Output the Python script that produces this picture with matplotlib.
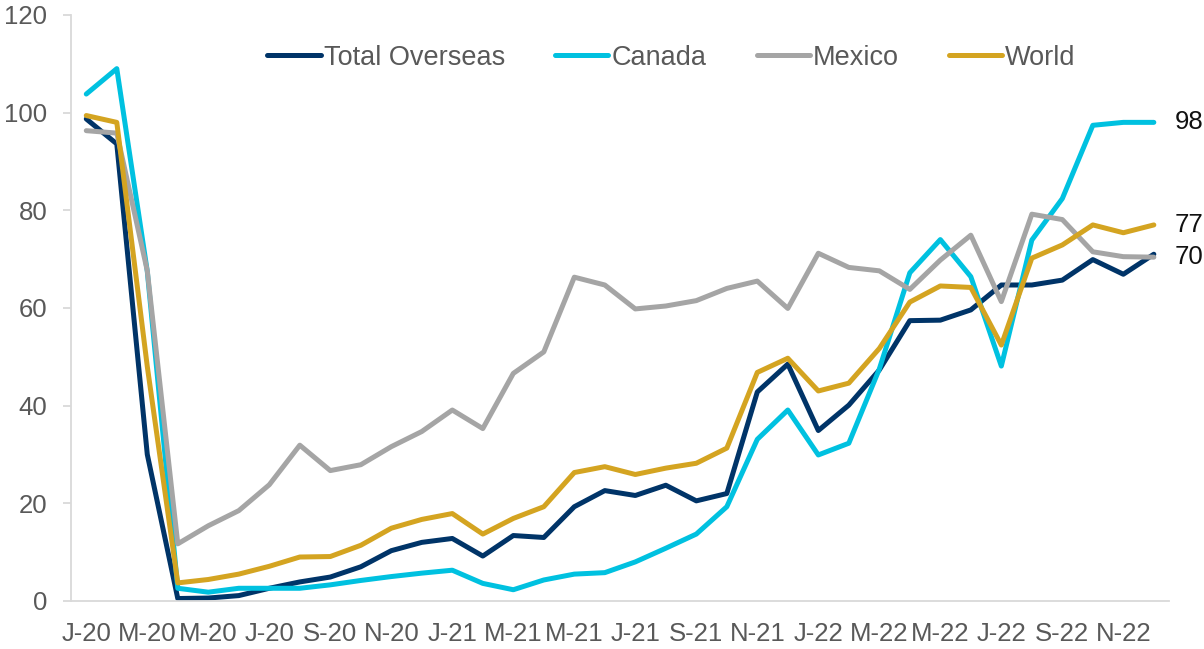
import matplotlib
matplotlib.use("Agg")
import matplotlib.pyplot as plt

plt.rcParams["font.family"] = ["Liberation Sans", "DejaVu Sans"]

# Monthly index values, Jan-2020 .. Dec-2022
months = [f"{m}-{y}" for y in ("20", "21", "22")
          for m in ("J", "F", "M", "A", "M", "J", "J", "A", "S", "O", "N", "D")]

total_overseas = [98.7, 93.6, 30.0, 0.5, 0.6, 1.1, 2.6, 3.9, 4.9, 7.0, 10.3, 12.0,
                  12.8, 9.2, 13.4, 13.0, 19.3, 22.6, 21.6, 23.7, 20.5, 22.0, 42.8, 48.5,
                  34.9, 40.1, 47.3, 57.4, 57.5, 59.6, 64.7, 64.7, 65.7, 69.9, 66.9, 71.0]
canada = [103.8, 109.0, 67.5, 2.6, 1.8, 2.6, 2.6, 2.6, 3.3, 4.2, 5.0, 5.7,
          6.3, 3.6, 2.3, 4.3, 5.5, 5.8, 8.0, 10.8, 13.7, 19.3, 33.1, 39.1,
          29.9, 32.3, 47.5, 67.2, 74.0, 66.4, 48.1, 73.9, 82.4, 97.4, 98.0, 98.0]
mexico = [96.3, 95.8, 67.6, 11.7, 15.4, 18.5, 23.8, 31.9, 26.7, 27.9, 31.6, 34.7,
          39.1, 35.3, 46.6, 51.0, 66.3, 64.7, 59.8, 60.4, 61.5, 64.0, 65.5, 59.9,
          71.2, 68.3, 67.6, 63.8, 69.8, 74.9, 61.3, 79.2, 78.1, 71.5, 70.5, 70.4]
world = [99.4, 98.0, 48.0, 3.7, 4.4, 5.5, 7.1, 9.0, 9.1, 11.4, 14.9, 16.7,
         17.9, 13.7, 16.9, 19.3, 26.3, 27.5, 25.9, 27.2, 28.2, 31.3, 46.8, 49.7,
         43.0, 44.6, 51.7, 61.2, 64.5, 64.2, 52.4, 70.2, 72.9, 77.0, 75.4, 77.0]

series = [
    ("Total Overseas", total_overseas, "#003468"),
    ("Canada", canada, "#00c1e0"),
    ("Mexico", mexico, "#a5a5a5"),
    ("World", world, "#d4a421"),
]
labelled = ["Canada", "World", "Mexico"]

tick_positions = list(range(0, len(months), 2))
tick_labels = [months[i] for i in tick_positions]

fig = plt.figure(figsize=(12.04, 6.49), dpi=100)
ax = fig.add_axes([0.059, 0.074, 0.912, 0.903])

x = list(range(len(months)))
for name, vals, color in series:
    ax.plot(x, vals, color=color, lw=3.6, label=name,
            solid_joinstyle="round", solid_capstyle="round")

for name, vals, color in series:
    if name in labelled:
        ax.annotate(f"{vals[-1]:.0f}", xy=(x[-1], vals[-1]), xytext=(15, 0),
                    textcoords="offset points", va="center", ha="left",
                    fontsize=18.5, color="#111111")

ax.set_xlim(-0.5, len(months) - 0.5)
ax.set_ylim(0, 120)
ax.set_yticks(range(0, 121, 20))
ax.set_xticks(tick_positions)
ax.set_xticklabels(tick_labels)

for side in ("top", "right"):
    ax.spines[side].set_visible(False)
for side in ("left", "bottom"):
    ax.spines[side].set_color("#d9d9d9")
    ax.spines[side].set_linewidth(1.3)

ax.tick_params(axis="y", length=6, width=1.3, color="#d9d9d9", pad=11,
               labelsize=18.5, labelcolor="#595959")
ax.tick_params(axis="x", length=0, pad=15, labelsize=18.5, labelcolor="#595959")

ax.legend(loc="center", bbox_to_anchor=(0.547, 0.927), ncol=4, frameon=False,
          fontsize=19.5, labelcolor="#595959", handlelength=1.96,
          handletextpad=0.12, columnspacing=1.85)

fig.savefig("out.png", dpi=100)
